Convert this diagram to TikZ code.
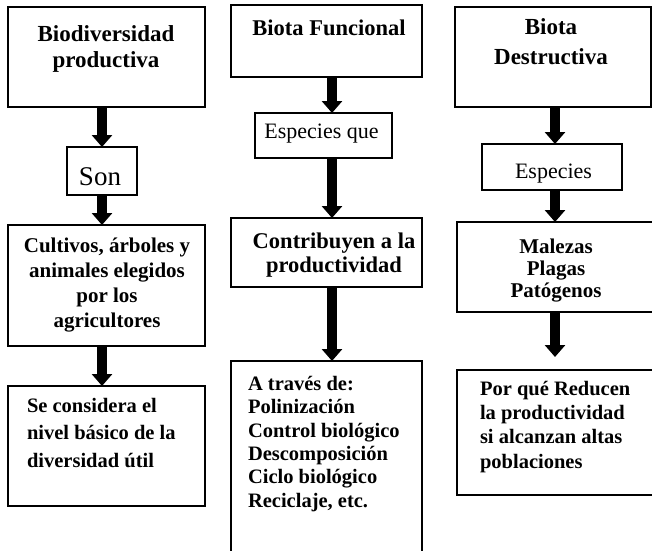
\documentclass[tikz,border=0pt]{standalone}
\usepackage{fontspec}
\setmainfont{Liberation Serif}
\usetikzlibrary{arrows.meta,calc}
\newcommand\myfs[2]{\fontsize{#1}{#2}\selectfont}
\tikzset{
  box/.style={draw=black, line width=1.3pt, rectangle, inner sep=0pt, outer sep=0pt},
  btxt/.style={inner sep=0pt, outer sep=0pt},
  bigarrow/.style={line width=9.5pt, -{Triangle[width=20pt,length=12pt]}},
}
\begin{document}
\begin{tikzpicture}[x=1pt,y=-1pt]
\path[use as bounding box, clip] (0,0) rectangle (652,550);
\fill[white] (0,0) rectangle (652,550);
% column axes
\coordinate (ax1) at (102,0);
\coordinate (ax2) at (332,0);
\coordinate (ax3) at (555,0);
% ---------- column 1
\node[box, minimum width=197pt, minimum height=100pt] (a1) at (106.5,57) {};
\node[box, minimum width=70pt, minimum height=48pt] (s1) at (102,171) {};
\node[box, minimum width=197pt, minimum height=121pt] (c1) at (106.5,285.5) {};
\node[box, minimum width=197pt, minimum height=120pt] (d1) at (106.5,446) {};
\node[btxt, anchor=north, align=center, font=\myfs{23}{26}\bfseries] (a1t) at (106,26) {Biodiversidad\\productiva};
\node[btxt, anchor=base, font=\myfs{27}{30}] (s1t) at (100,185) {Son};
\node[btxt, anchor=north, align=center, font=\myfs{21}{25}\bfseries] (c1t) at (107,238) {Cultivos, árboles y\\animales elegidos\\por los\\agricultores};
\node[btxt, anchor=north west, align=left, font=\myfs{20.5}{27.5}\bfseries] (d1t) at (27,398) {Se considera el\\nivel básico de la\\diversidad útil};
% ---------- column 2
\node[box, minimum width=191pt, minimum height=72pt] (a2) at (326.5,41) {};
\node[box, minimum width=137pt, minimum height=45pt] (b2) at (323.5,135.5) {};
\node[box, minimum width=191pt, minimum height=69pt] (c2) at (326.5,252.5) {};
\node[box, minimum width=191pt, minimum height=192pt] (d2) at (326.5,457) {};
\node[btxt, anchor=base, font=\myfs{22.5}{25}\bfseries] (a2t) at (329,35) {Biota Funcional};
\node[btxt, anchor=base, font=\myfs{22}{25}] (b2t) at (321.5,138) {Especies que};
\node[btxt, anchor=north, align=center, font=\myfs{22.5}{24}\bfseries] (c2t) at (334,232.5) {Contribuyen a la\\productividad};
\node[btxt, anchor=north west, align=left, font=\myfs{20.5}{23.4}\bfseries] (d2t) at (248,376) {A través de:\\Polinización\\Control biológico\\Descomposición\\Ciclo biológico\\Reciclaje, etc.};
% ---------- column 3
\node[box, minimum width=196pt, minimum height=100pt] (a3) at (553,57) {};
\node[box, minimum width=140pt, minimum height=46pt] (b3) at (552,167) {};
\node[box, minimum width=199pt, minimum height=90pt] (c3) at (556.5,267) {};
\node[box, minimum width=199pt, minimum height=125pt] (d3) at (556.5,432.5) {};
\node[btxt, anchor=north, align=center, font=\myfs{23}{30}\bfseries] (a3t) at (551,19) {Biota\\Destructiva};
\node[btxt, anchor=base, font=\myfs{22}{25}] (b3t) at (553.5,178) {Especies};
\node[btxt, anchor=north, align=center, font=\myfs{21}{22.3}\bfseries] (c3t) at (556,238.5) {Malezas\\Plagas\\Patógenos};
\node[btxt, anchor=north west, align=left, font=\myfs{20.5}{24.3}\bfseries] (d3t) at (480,381) {Por qué Reducen\\la productividad\\si alcanzan altas\\poblaciones};
% ---------- arrows
\draw[bigarrow] (ax1 |- a1.south) -- (ax1 |- s1.north);
\draw[bigarrow] (ax1 |- s1.south) -- (ax1 |- c1.north);
\draw[bigarrow] (ax1 |- c1.south) -- (ax1 |- d1.north);
\draw[bigarrow] (ax2 |- a2.south) -- (ax2 |- b2.north);
\draw[bigarrow] (ax2 |- b2.south) -- (ax2 |- c2.north);
\draw[bigarrow] (ax2 |- c2.south) -- (ax2 |- d2.north);
\draw[bigarrow] (ax3 |- a3.south) -- (ax3 |- b3.north);
\draw[bigarrow] (ax3 |- b3.south) -- (ax3 |- c3.north);
\coordinate (d3in) at ($(ax3 |- d3.north)+(0,-13)$);
\draw[bigarrow] (ax3 |- c3.south) -- (d3in);
\end{tikzpicture}
\end{document}
